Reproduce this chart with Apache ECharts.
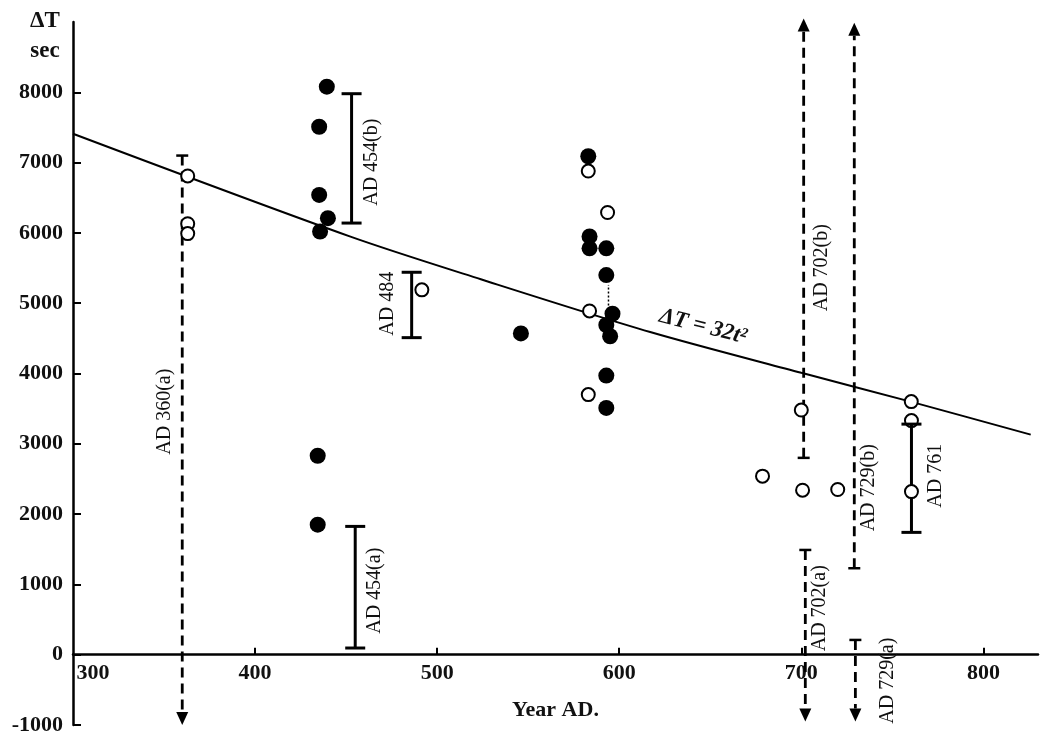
<!DOCTYPE html>
<html>
<head>
<meta charset="utf-8">
<script src="https://cdn.jsdelivr.net/npm/echarts@6/dist/echarts.min.js"></script>
<style>
html, body { margin: 0; background: #fff; }
#el { width: 1045px; height: 734px; }
</style>
</head>
<body>
<div id="el"></div>
<script>
// tick labels
const yearTicks = [300, 400, 500, 600, 700, 800];
const dtTicks = [-1000, 0, 1000, 2000, 3000, 4000, 5000, 6000, 7000, 8000];

// fitted curve dT = 32t^2
const fitCurve = [[300, 7410], [452, 5950], [524, 5340], [617, 4590], [700, 4010], [760, 3600], [826, 3130]];

// filled dots
const solidDots = [
  [439.4, 8080], [435.2, 7510], [435.2, 6540], [440, 6210], [435.7, 6020],
  [434.4, 2830], [434.4, 1850], [546, 4570],
  [583, 7090], [583.7, 5950], [583.7, 5780], [592.9, 5780], [592.9, 5400],
  [596.3, 4850], [592.9, 4690], [595, 4530], [592.9, 3970], [592.9, 3510]
];
// open dots
const openDots = [
  [363, 6810], [363, 6130], [363, 5990], [491.6, 5190],
  [583, 6880], [593.6, 6290], [583.7, 4890], [583, 3700],
  [700, 3480], [678.7, 2540], [700.7, 2340], [720, 2350],
  [760.4, 3600], [760.5, 2320]
];
// the half hidden dot under the AD 761 cap
const halfDot = [[760.5, 3330]];

// solid error bars: year, low, high
const errBars = [[453, 6140, 7980], [486, 4510, 5440], [455, 95, 1825], [760.5, 1740, 3280]];
// dashed limits with arrow: year, capped end, arrow end
const arrowBars = [[360, 7100, -1000], [701.3, 2800, 9050], [702.2, 1490, -950], [729.1, 1230, 8990], [729.7, 210, -950]];
// short dotted link near AD 594
const linkLine = [[594.1, 4910, 5260]];

// annotations
const noteText = ['AD 360(a)', 'AD 454(b)', 'AD 484', 'AD 454(a)', 'AD 702(b)', 'AD 729(b)', 'AD 702(a)', 'AD 729(a)', 'AD 761'];
const noteX = [350.5, 464.3, 473, 466, 711.4, 736.8, 710.4, 747.3, 773.6];
const noteY = [3457, 7006, 4993, 910, 5505, 2375, 661, -370, 2546];
const eqText = 'ΔT = 32t²';
const eqPos = [646, 4666];

const serif = '"Liberation Serif", "DejaVu Serif", serif';

let mychart = echarts.init(document.getElementById('el'));

function barItem(params, api) {
  const top = api.coord([api.value(0), api.value(2)]);
  const bot = api.coord([api.value(0), api.value(1)]);
  const w = 10;
  const st = { stroke: '#000', lineWidth: 3 };
  return {
    type: 'group',
    children: [
      { type: 'line', shape: { x1: top[0], y1: top[1], x2: bot[0], y2: bot[1] }, style: st },
      { type: 'line', shape: { x1: top[0] - w, y1: top[1], x2: top[0] + w, y2: top[1] }, style: st },
      { type: 'line', shape: { x1: bot[0] - w, y1: bot[1], x2: bot[0] + w, y2: bot[1] }, style: st }
    ]
  };
}

function arrowItem(params, api) {
  const cap = api.coord([api.value(0), api.value(1)]);
  const tip = api.coord([api.value(0), api.value(2)]);
  const dir = tip[1] > cap[1] ? 1 : -1;
  const h = 13, w = 6;
  return {
    type: 'group',
    children: [
      { type: 'line', shape: { x1: cap[0] - 6, y1: cap[1], x2: cap[0] + 6, y2: cap[1] }, style: { stroke: '#000', lineWidth: 2.5 } },
      { type: 'line', shape: { x1: cap[0], y1: cap[1], x2: tip[0], y2: tip[1] - dir * h }, style: { stroke: '#000', lineWidth: 2.8, lineDash: [10, 6] } },
      { type: 'polygon', shape: { points: [[tip[0], tip[1]], [tip[0] - w, tip[1] - dir * h], [tip[0] + w, tip[1] - dir * h]] }, style: { fill: '#000' } }
    ]
  };
}

function linkItem(params, api) {
  const a = api.coord([api.value(0), api.value(1)]);
  const b = api.coord([api.value(0), api.value(2)]);
  return { type: 'line', shape: { x1: a[0], y1: a[1], x2: b[0], y2: b[1] }, style: { stroke: '#000', lineWidth: 1.5, lineDash: [2, 2] } };
}

function noteItem(params, api) {
  const p = api.coord([api.value(0), api.value(1)]);
  return {
    type: 'text', x: p[0], y: p[1], rotation: Math.PI / 2,
    style: { text: noteText[params.dataIndex], fontFamily: serif, fontSize: 20, fill: '#111', align: 'center', verticalAlign: 'middle' }
  };
}

function eqItem(params, api) {
  const p = api.coord([api.value(0), api.value(1)]);
  return {
    type: 'text', x: p[0], y: p[1], rotation: -0.25,
    style: { text: eqText, fontFamily: serif, fontSize: 23, fontStyle: 'italic', fontWeight: 'bold', fill: '#111', align: 'center', verticalAlign: 'middle' }
  };
}

const axisFont = { fontFamily: serif, fontSize: 22, fontWeight: 'bold', color: '#111' };

var option = {
  animation: false,
  backgroundColor: '#fff',
  grid: { left: 73, right: 7, top: 22, bottom: 9, containLabel: false, outerBoundsMode: 'none' },
  graphic: [
    { type: 'text', x: 45, y: 6, style: { text: 'ΔT\nsec', fontFamily: serif, fontSize: 23, fontWeight: 'bold', fill: '#111', align: 'center', lineHeight: 30 } }
  ],
  xAxis: {
    type: 'value', min: 300, max: 830, interval: 100,
    position: 'bottom',
    offset: -70.3,   // sit on the zero line
    splitLine: { show: false },
    axisLine: { onZero: false, lineStyle: { color: '#000', width: 2.5 } },
    axisTick: { inside: true, length: 7, lineStyle: { color: '#000', width: 2 }, customValues: yearTicks.slice(1) },
    axisLabel: Object.assign({
      margin: 8,
      formatter: v => (v === 300 ? '{a|300}' : (v % 100 === 0 ? String(v) : '')),
      rich: { a: Object.assign({ padding: [0, 0, 0, 40] }, { fontFamily: serif, fontSize: 22, fontWeight: 'bold', color: '#111' }) }
    }, axisFont),
    name: 'Year AD.', nameLocation: 'middle', nameGap: 45,
    nameTextStyle: Object.assign({}, axisFont)
  },
  yAxis: {
    type: 'value', min: -1000, max: 9000, interval: 1000,
    splitLine: { show: false },
    axisLine: { lineStyle: { color: '#000', width: 2.5 } },
    axisTick: { inside: true, length: 8, lineStyle: { color: '#000', width: 2 }, customValues: dtTicks },
    axisLabel: Object.assign({ margin: 10, formatter: v => (v >= 9000 ? '' : String(v)) }, axisFont)
  },
  series: [
    { type: 'line', data: fitCurve, symbol: 'none', smooth: 0.3, lineStyle: { color: '#000', width: 2 }, z: 2 },
    { type: 'custom', renderItem: linkItem, data: linkLine, z: 2 },
    { type: 'custom', renderItem: arrowItem, data: arrowBars, z: 3 },
    { type: 'scatter', data: halfDot, symbol: 'circle', symbolSize: 13, itemStyle: { color: '#fff', borderColor: '#000', borderWidth: 2, opacity: 1 }, z: 3 },
    { type: 'custom', renderItem: barItem, data: errBars, z: 4 },
    { type: 'scatter', data: solidDots, symbol: 'circle', symbolSize: 16, itemStyle: { color: '#000', opacity: 1 }, z: 5 },
    { type: 'scatter', data: openDots, symbol: 'circle', symbolSize: 13, itemStyle: { color: '#fff', borderColor: '#000', borderWidth: 2, opacity: 1 }, z: 5 },
    { type: 'custom', renderItem: noteItem, data: noteX.map((x, i) => [x, noteY[i]]), z: 6 },
    { type: 'custom', renderItem: eqItem, data: [eqPos], z: 6 }
  ]
};
option && mychart.setOption(option);
</script>
</body>
</html>
